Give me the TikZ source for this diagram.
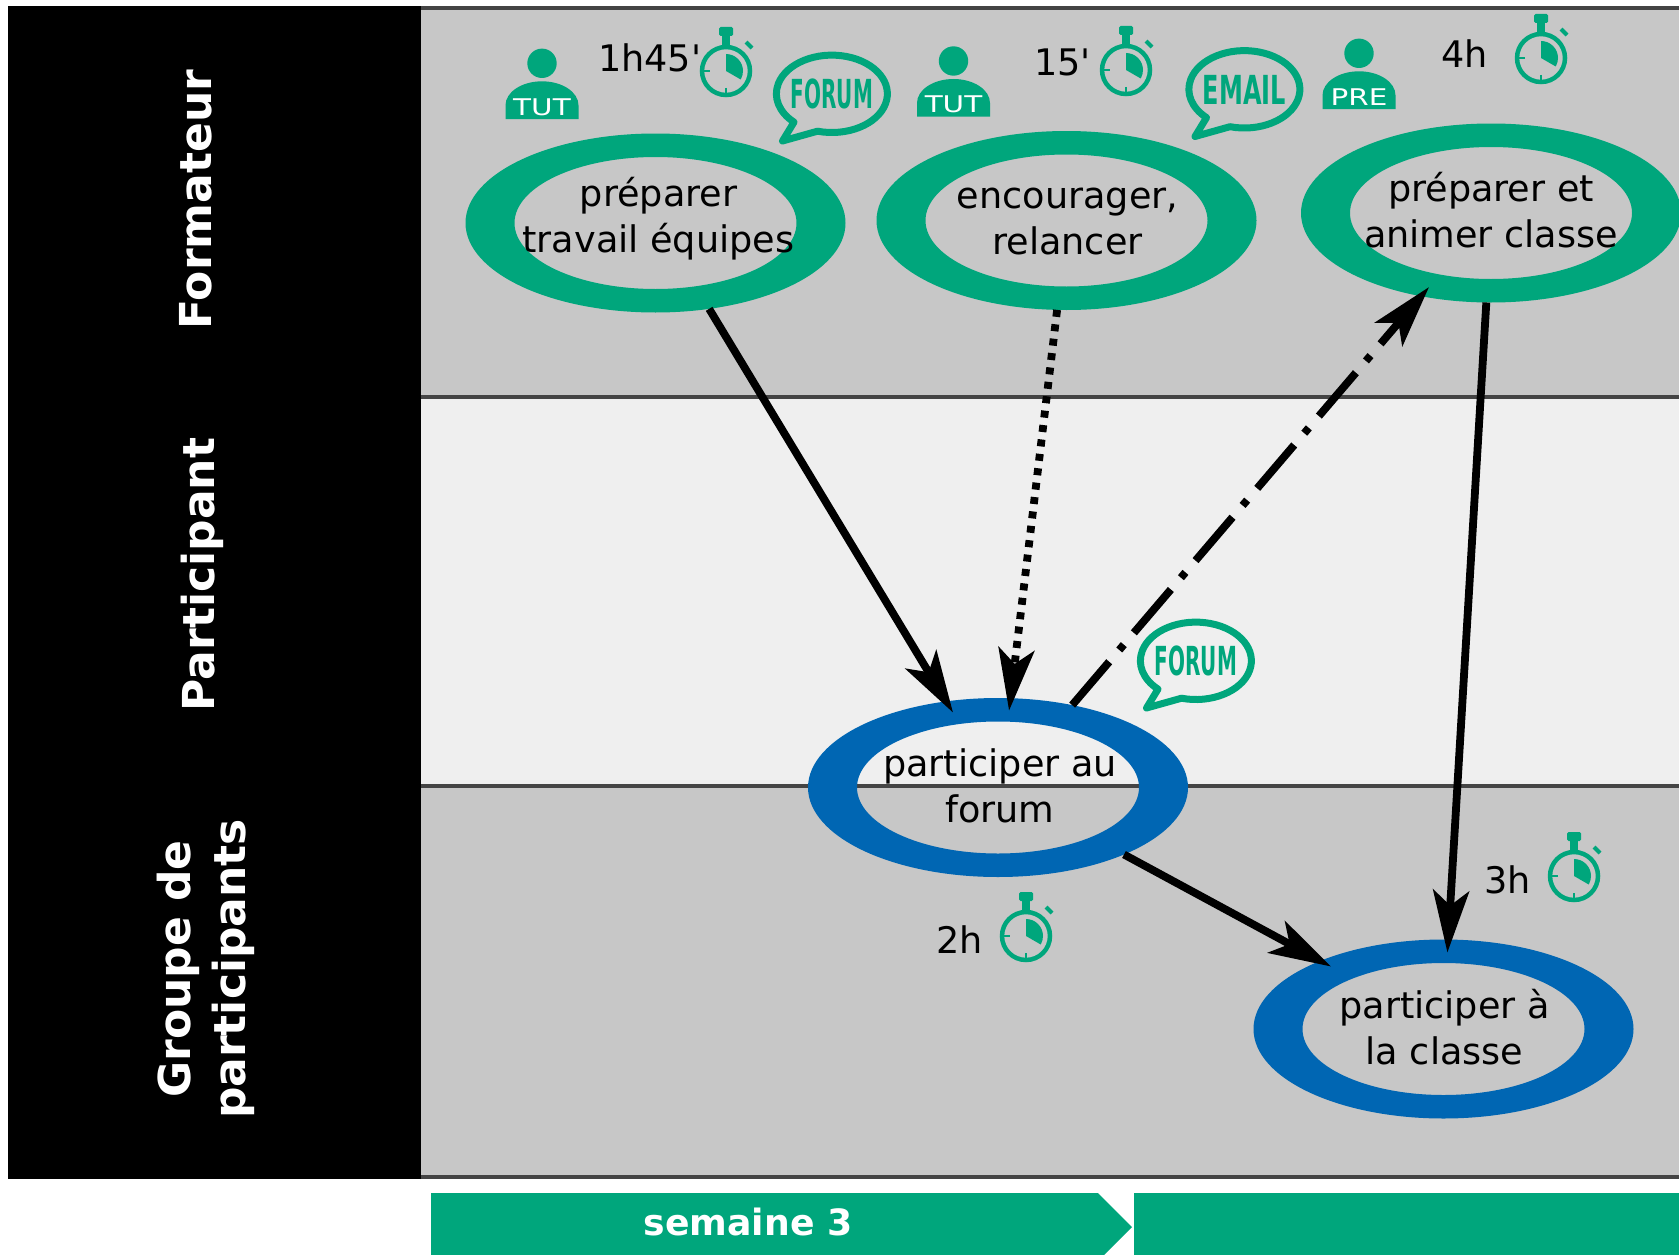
\documentclass[tikz,border=0pt]{standalone}
\usepackage{fontspec}
\setmainfont{DejaVu Sans}
\newfontfamily\chiffres{DejaVu Sans}
\usetikzlibrary{shapes.geometric,arrows.meta}
\definecolor{vertpro}{HTML}{00A67C}
\definecolor{bleupro}{HTML}{0066B3}
\definecolor{grisclair}{HTML}{EFEFEF}
\definecolor{grisfonce}{HTML}{C7C7C7}
\definecolor{filet}{HTML}{444444}
\tikzset{
  anneau/.style={ellipse,minimum width=380pt,minimum height=179pt,inner sep=0pt,outer sep=0pt},
  texte/.style={font=\fontsize{36.6}{46}\selectfont,align=center,inner sep=0pt},
  duree/.style={font=\chiffres\fontsize{36.6}{46}\selectfont,inner sep=0pt,anchor=base west},
  acteur/.style={font=\fontsize{44}{55}\bfseries\selectfont,text=white,rotate=90,align=center,inner sep=0pt},
  logo/.style={font=\fontsize{40}{46}\bfseries\selectfont,text=vertpro,inner sep=0pt,transform shape},
  fleche/.style={line width=7.8pt,-{Stealth[length=62pt,width=36pt,inset=15pt]}},
  chrono/.pic={
    \draw[vertpro,line width=4.5pt] (0,0) circle[radius=24];
    \fill[vertpro,rounded corners=1.5pt] (-7,-44) rectangle (7,-35);
    \fill[vertpro] (-4,-36) rectangle (4,-24);
    \draw[vertpro,line width=4pt] (20,-29) -- (26,-23);
    \fill[vertpro] (0,0) -- (0,-17) arc[start angle=-90,end angle=30,radius=17] -- cycle;
    \draw[vertpro,line width=1.5pt] (-23,0) -- (-16,0) (0,17) -- (0,23);
  },
  formateur/.pic={
    \fill[vertpro] (0,0) circle[radius=14.7];
    \fill[vertpro] (-36.5,55.7) -- (-36.5,42) arc[start angle=180,end angle=360,x radius=36.5,y radius=24] -- (36.5,55.7) -- cycle;
    \node[font=\fontsize{23}{23}\selectfont,text=white,inner sep=0pt,xscale=1.28,transform shape] at (0,43.5) {#1};
  },
  bulle/.pic={
    \draw[vertpro,line width=7pt,line join=round] (-49.5,47) -- (-14.5,37.2)
      arc[start angle=105,end angle=-227,x radius=55.5,y radius=38.7] -- cycle;
  },
}
\begin{document}
\begin{tikzpicture}[x=1pt,y=-1pt]
  \path[use as bounding box,clip] (0,0) rectangle (1679,1255);
  \fill[white] (0,0) rectangle (1679,1255);
  % couloirs
  \foreach \h/\b/\coul in {8/397/grisfonce,397/786/grisclair,786/1177/grisfonce}
    {\draw[draw=filet,fill=\coul,line width=3.5pt] (415,\h) rectangle (1700,\b);}
  \fill[black] (8,6) rectangle (421,1179);
  \node[acteur,anchor=base] (formateur) at (211,199.5) {Formateur};
  \node[acteur,anchor=base] (participant) at (214,574.5) {Participant};
  \node[acteur] (groupe) at (205.5,969) {Groupe de\\participants};
  % semaines
  \fill[vertpro] (431,1193) -- (1098,1193) -- (1132,1227) -- (1098,1261) -- (431,1261) -- cycle;
  \fill[vertpro] (1134,1193) rectangle (1700,1261);
  \node[font=\fontsize{36.2}{46}\bfseries\selectfont,text=white,inner sep=0pt,anchor=base] (semaine) at (748,1235) {semaine 3};
  % activites
  \foreach \p/\nom/\coul/\dx/\dy/\txt in {
      (655.5,223)/prep/vertpro/3/4/{préparer\\travail équipes},
      (1066.5,220.5)/relance/vertpro/1/-1/{encourager,\\relancer},
      (1491,213)/animer/vertpro/0/3/{préparer et\\animer classe},
      (998,787.5)/forum/bleupro/2/2/{participer au\\forum},
      (1443.5,1029)/classe/bleupro/1/2/{participer à\\la classe}} {
    \node[anneau] (\nom) at \p {};
    \fill[\coul,even odd rule] (\nom.center) ellipse[x radius=190,y radius=89.5]
      (\nom.center) ellipse[x radius=141,y radius=66];
    \node[texte,xshift=\dx pt,yshift=\dy pt] (\nom-t) at \p {\txt};
  }
  % liens
  \draw[fleche,shorten >=-13pt] (prep.-58.3) -- (forum.121.2);
  \draw[fleche,shorten >=-12.5pt,dash pattern=on 7pt off 7.5pt] (relance.-96.8) -- (forum.82.6);
  \draw[fleche,shorten >=-12pt,dash pattern=on 57pt off 15.5pt on 7pt off 15.5pt] (forum.48.8) -- (animer.-130);
  \draw[fleche,shorten >=-13pt] (animer.-93.2) -- (classe.87.2);
  \draw[fleche,shorten >=-12pt] (forum.-28.4) -- (classe.151.4);
  % durees
  \def\chronos{(726,71),(1126,70),(1541,58),(1026,936),(1574,876)}
  \foreach \c in \chronos {\pic at \c {chrono};}
  \foreach \c/\t [count=\i from 1] in {(598,71)/1h45',(1034,76)/15',(1441,67)/4h,(936,953)/2h,(1484,893)/3h}
    {\node[duree] (duree\i) at \c {\t};}
  % intervenants
  \pic at (542,63.3) {formateur=TUT};
  \pic at (953.5,61) {formateur=TUT};
  \pic at (1359,53.3) {formateur=PRE};
  % outils
  \foreach \c/\m/\e [count=\i from 1] in {(832,94)/FORUM/.5,(1244.5,89.5)/EMAIL/.6,(1196,661)/FORUM/.5} {
    \pic at \c {bulle};
    \node[logo,xscale=\e] (outil\i) at \c {\m};
  }
\end{tikzpicture}
\end{document}
